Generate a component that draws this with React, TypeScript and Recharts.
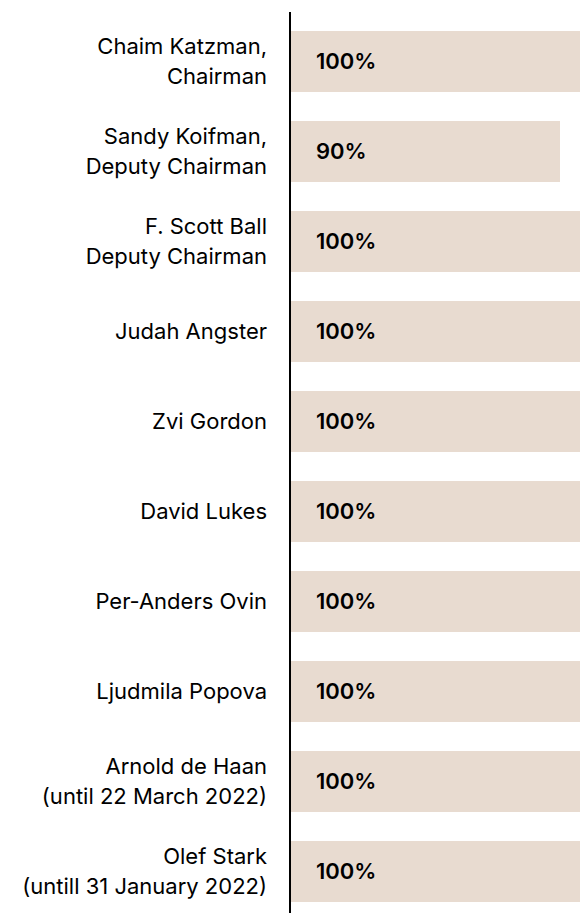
import { BarChart, Bar, XAxis, YAxis, LabelList } from "recharts";

const names = [
  "Chaim Katzman,\nChairman",
  "Sandy Koifman,\nDeputy Chairman",
  "F. Scott Ball\nDeputy Chairman",
  "Judah Angster",
  "Zvi Gordon",
  "David Lukes",
  "Per-Anders Ovin",
  "Ljudmila Popova",
  "Arnold de Haan\n(until 22 March 2022)",
  "Olef Stark\n(untill 31 January 2022)",
];
const attendance = [100, 90, 100, 100, 100, 100, 100, 100, 100, 100];

const data = names.map((name, i) => ({ name, value: attendance[i] }));

const FONT = "Inter, 'Noto Sans', sans-serif";

function NameTick(props: any) {
  const { x, y, payload } = props;
  const lines = String(payload.value).split("\n");
  const lh = 30;
  const start = y - ((lines.length - 1) * lh) / 2;
  return (
    <text x={x} y={start} textAnchor="end" fill="#000" fontSize={22} fontFamily={FONT}>
      {lines.map((l, i) => (
        <tspan key={i} x={x} y={start + i * lh} dy="0.35em">
          {l}
        </tspan>
      ))}
    </text>
  );
}

export default function App() {
  return (
    <div
      style={{
        position: "absolute",
        left: 0,
        top: 0,
        width: 580,
        height: 913,
        overflow: "hidden",
        background: "#fff",
      }}
    >
      <BarChart
        layout="vertical"
        width={590}
        height={916}
        data={data}
        margin={{ top: 12, right: 0, bottom: 0, left: 0 }}
        barSize={61}
      >
        <XAxis type="number" domain={[0, 100]} hide />
        <YAxis
          type="category"
          dataKey="name"
          width={290}
          axisLine={{ stroke: "#000", strokeWidth: 2 }}
          tickLine={false}
          tickSize={0}
          tickMargin={23}
          padding={{ top: 4, bottom: 0 }}
          interval={0}
          tick={<NameTick />}
        />
        <Bar dataKey="value" fill="#e8dbd0" isAnimationActive={false}>
          <LabelList
            dataKey="value"
            position="insideLeft"
            offset={26}
            formatter={(v: any) => `${v}%`}
            style={{ fill: "#000", fontSize: 22, fontWeight: 600, fontFamily: FONT }}
          />
        </Bar>
      </BarChart>
    </div>
  );
}
